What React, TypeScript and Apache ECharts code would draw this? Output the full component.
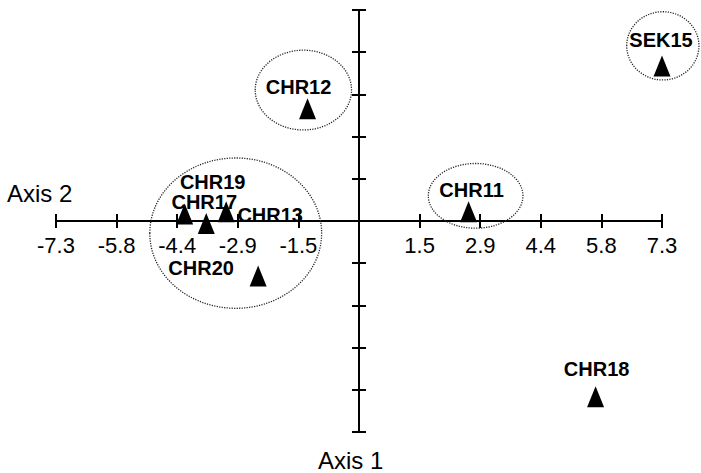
import React, { useEffect, useRef } from 'react';
import * as echarts from 'echarts';

// Points (Axis 2 = horizontal, Axis 1 = vertical)
const pointNames = ['SEK15', 'CHR12', 'CHR11', 'CHR18', 'CHR19', 'CHR17', 'CHR13', 'CHR20'];
const axis2Values = [7.3, -1.24, 2.64, 5.7, -4.2, -3.68, -3.2, -2.43];
const axis1Values = [5.36, 3.88, 0.32, -6.08, 0.24, -0.09, 0.32, -1.9];

// Dotted cluster ellipses (data units)
const clusterCenterX = [7.32, -1.34, 2.81, -2.97];
const clusterCenterY = [6.06, 4.53, 0.87, -0.42];
const clusterRadiusX = [0.87, 1.16, 1.14, 2.07];
const clusterRadiusY = [1.18, 1.38, 1.12, 2.6];

// Axis scale
const axisMin = -7.3;
const axisMax = 7.3;
const axisStep = 1.46;

// label placement (pixels, relative to marker centre)
const labelOffsets: Record<string, [number, number]> = {
  SEK15: [-1, -26],
  CHR12: [-9, -22],
  CHR11: [3, -22],
  CHR18: [1, -28],
  CHR19: [28, -32],
  CHR17: [-2, -22],
  CHR13: [44, 3],
  CHR20: [-57, -8],
};

const FONT = "'Liberation Sans', Arial, sans-serif";
const GRID_TOP = 10;
const GRID_BOTTOM = 41;
const HEIGHT = 473;

export default function App() {
  const ref = useRef<HTMLDivElement>(null);
  useEffect(() => {
    if (!ref.current) return;
    const chart = echarts.init(ref.current, undefined, { renderer: 'svg' });
    const axisLineStyle = { color: '#000', width: 2 };
    const tickStyle = { color: '#000', width: 2 };
    const halfGrid = (HEIGHT - GRID_TOP - GRID_BOTTOM) / 2;
    const xCommon = {
      type: 'value' as const,
      min: axisMin,
      max: axisMax,
      interval: axisStep,
      position: 'bottom' as const,
      splitLine: { show: false },
    };
    const yCommon = {
      type: 'value' as const,
      min: axisMin,
      max: axisMax,
      interval: axisStep,
      position: 'left' as const,
      splitLine: { show: false },
      axisLabel: { show: false },
    };
    chart.setOption({
      animation: false,
      backgroundColor: '#fff',
      grid: { left: 56, right: 39, top: GRID_TOP, bottom: GRID_BOTTOM, containLabel: false, outerBoundsMode: 'none' },
      xAxis: [
        {
          ...xCommon,
          axisLine: { show: true, onZero: true, onZeroAxisIndex: 0, lineStyle: axisLineStyle },
          axisTick: { show: true, inside: false, length: 7, lineStyle: tickStyle },
          axisLabel: { show: false },
        },
        {
          ...xCommon,
          axisLine: { show: false, onZero: true, onZeroAxisIndex: 0 },
          axisTick: { show: true, inside: true, length: 7, lineStyle: tickStyle },
          axisLabel: { show: false },
        },
        {
          ...xCommon,
          offset: -halfGrid,
          axisLine: { show: false, onZero: false },
          axisTick: { show: false },
          axisLabel: {
            show: true,
            margin: 13,
            color: '#000',
            fontSize: 22,
            fontFamily: FONT,
            showMinLabel: true,
            showMaxLabel: true,
            formatter: (v: number) => (Math.abs(v) < 1e-6 ? '' : v.toFixed(1)),
          },
        },
      ],
      yAxis: [
        {
          ...yCommon,
          axisLine: { show: true, onZero: true, onZeroAxisIndex: 0, lineStyle: axisLineStyle },
          axisTick: { show: true, inside: false, length: 7, lineStyle: tickStyle },
        },
        {
          ...yCommon,
          axisLine: { show: false, onZero: true, onZeroAxisIndex: 0 },
          axisTick: { show: true, inside: true, length: 7, lineStyle: tickStyle },
        },
      ],
      series: [
        {
          type: 'scatter',
          xAxisIndex: 0,
          yAxisIndex: 0,
          symbol: 'triangle',
          symbolSize: [17, 21],
          clip: false,
          itemStyle: { color: '#000', opacity: 1 },
          z: 5,
          data: pointNames.map((n, i) => ({
            name: n,
            value: [axis2Values[i], axis1Values[i]],
            label: {
              show: true,
              position: 'inside',
              offset: labelOffsets[n],
              formatter: n,
              color: '#000',
              fontWeight: 'bold',
              fontSize: 20,
              lineHeight: 18,
              fontFamily: FONT,
            },
          })),
        },
      ],
    });

    const ellipses = clusterCenterX.map((cx, i) => {
      const c = chart.convertToPixel({ gridIndex: 0 }, [cx, clusterCenterY[i]]) as number[];
      const ex = chart.convertToPixel({ gridIndex: 0 }, [cx + clusterRadiusX[i], clusterCenterY[i]]) as number[];
      const ey = chart.convertToPixel({ gridIndex: 0 }, [cx, clusterCenterY[i] + clusterRadiusY[i]]) as number[];
      return {
        type: 'ellipse',
        shape: { cx: c[0], cy: c[1], rx: Math.abs(ex[0] - c[0]), ry: Math.abs(c[1] - ey[1]) },
        style: { fill: 'none', stroke: '#222', lineWidth: 1.3, lineDash: [1.2, 1.3] },
        z: 1,
        silent: true,
      };
    });

    chart.setOption({
      graphic: [
        ...ellipses,
        {
          type: 'text',
          left: 7,
          top: 181,
          style: { text: 'Axis 2', fontSize: 24, fontFamily: FONT, fill: '#000' },
        },
        {
          type: 'text',
          left: 318,
          top: 448,
          style: { text: 'Axis 1', fontSize: 24, fontFamily: FONT, fill: '#000' },
        },
      ],
    });

    return () => chart.dispose();
  }, []);
  return (
    <div
      ref={ref}
      style={{ position: 'fixed', left: 0, top: 0, width: 701, height: 473, background: '#fff' }}
    />
  );
}
